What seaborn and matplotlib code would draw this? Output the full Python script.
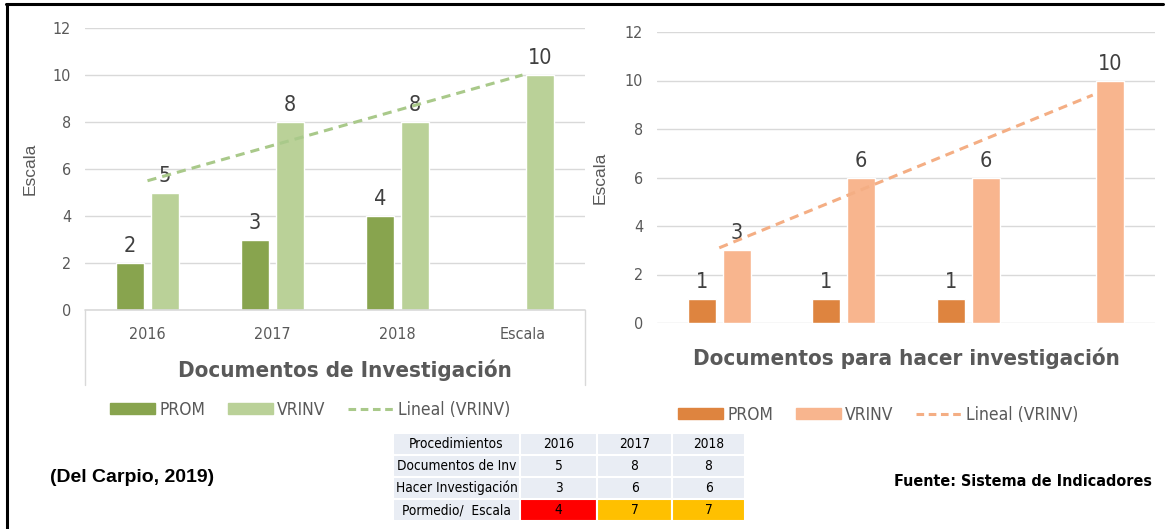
import numpy as np
import pandas as pd
import matplotlib
matplotlib.use("Agg")
import matplotlib.pyplot as plt
import seaborn as sns
from matplotlib.patches import Patch
from matplotlib.lines import Line2D

## DATOS
categorias = ["2016", "2017", "2018", "Escala"]
series = ["PROM", "VRINV"]
prom_inv = [2, 3, 4, np.nan]
vrinv_inv = [5, 8, 8, 10]
prom_hacer = [1, 1, 1, np.nan]
vrinv_hacer = [3, 6, 6, 10]

titulo_inv = "Documentos de Investigación"
titulo_hacer = "Documentos para hacer investigación"

tabla_cols = ["Procedimientos", "2016", "2017", "2018"]
tabla_filas = ["Documentos de Inv", "Hacer Investigación", "Pormedio/  Escala"]
tabla_vals = [[5, 8, 8], [3, 6, 6], [4, 7, 7]]

sns.set_style("white")
# letra estrecha parecida a Arial Narrow
plt.rcParams['font.family'] = ['DejaVu Sans']
plt.rcParams['font.stretch'] = 'condensed'

GRIS = "#595959"
REJILLA = "#D9D9D9"

fig = plt.figure(figsize=(11.66, 5.29), dpi=100)


def dibujar(ax, prom, vrinv, c_prom, c_vrinv, c_linea, ver_ticks):
    df = pd.DataFrame({
        "cat": categorias * 2,
        "serie": ["PROM"] * 4 + ["VRINV"] * 4,
        "valor": list(prom) + list(vrinv),
    })
    sns.barplot(data=df, x="cat", y="valor", hue="serie", order=categorias,
                hue_order=series, palette=[c_prom, c_vrinv], saturation=1,
                width=0.56, gap=0.2, ax=ax, legend=False)
    for cont in ax.containers:
        ax.bar_label(cont, fmt="%g", padding=5, fontsize=15.5, color="#404040")
    # linea de tendencia (lineal) de VRINV
    xs = np.arange(len(categorias))
    m, b = np.polyfit(xs, vrinv, 1)
    ax.plot(xs[[0, -1]], m * xs[[0, -1]] + b, ls=(0, (3, 2)), lw=2.2,
            color=c_linea, zorder=3)
    ax.set_ylim(0, 12)
    ax.set_xlim(-0.5, 3.5)
    ax.set_yticks(range(0, 13, 2))
    ax.grid(axis="y", color=REJILLA, lw=1)
    ax.set_axisbelow(True)
    sns.despine(ax=ax, left=True, bottom=True)
    ax.tick_params(axis="y", length=0, labelsize=11.5, labelcolor=GRIS, pad=10)
    ax.tick_params(axis="x", length=0, labelsize=11.5, labelcolor=GRIS, pad=12)
    if not ver_ticks:
        ax.set_xticklabels([])
    ax.set_xlabel("")
    ax.set_ylabel("Escala", fontsize=12.5, color=GRIS,
                  family=['Liberation Sans', 'DejaVu Sans'], stretch='normal')


# grafico izquierdo
ax1 = fig.add_axes([85 / 1166, 1 - 310 / 529, 500 / 1166, 282 / 529])
dibujar(ax1, prom_inv, vrinv_inv, "#88A44E", "#BAD198", "#A9C98A", True)
ax1.yaxis.set_label_coords(-0.094, 0.5)

# grafico derecho
ax2 = fig.add_axes([657 / 1166, 1 - 323 / 529, 498 / 1166, 291 / 529])
dibujar(ax2, prom_hacer, vrinv_hacer, "#DE843F", "#F8B58E", "#F4AE84", False)
ax2.yaxis.set_label_coords(-0.1, 0.5)

# marco gris del area del eje x (izquierdo)
for xp in (85, 585):
    fig.add_artist(Line2D([xp / 1166] * 2, [1 - 310 / 529, 1 - 385 / 529],
                          color=REJILLA, lw=1))
fig.add_artist(Line2D([85 / 1166, 585 / 1166], [1 - 310 / 529] * 2,
                      color=REJILLA, lw=1.2))

fig.text(345 / 1166, 1 - 370 / 529, titulo_inv, ha="center", va="center",
         fontsize=16, fontweight="bold", color=GRIS)
fig.text(906 / 1166, 1 - 358 / 529, titulo_hacer, ha="center", va="center",
         fontsize=16, fontweight="bold", color=GRIS)


def leyenda(c_prom, c_vrinv, c_linea, cx, cy):
    handles = [Patch(color=c_prom), Patch(color=c_vrinv),
               Line2D([], [], color=c_linea, ls=(0, (2.5, 1.5)), lw=2.2)]
    fig.legend(handles, ["PROM", "VRINV", "Lineal (VRINV)"], loc="center",
               bbox_to_anchor=(cx / 1166, 1 - cy / 529), ncol=3, frameon=False,
               fontsize=12.5, labelcolor=GRIS, handlelength=2.6,
               handleheight=0.6, handletextpad=0.25, columnspacing=1.3)


leyenda("#88A44E", "#BAD198", "#A9C98A", 310, 410)
leyenda("#DE843F", "#F8B58E", "#F4AE84", 878, 415)

# tabla resumen
axt = fig.add_axes([393 / 1166, 1 - 521 / 529, 352 / 1166, 88 / 529])
axt.axis("off")
celdas = [[f] + [str(v) for v in vals] for f, vals in zip(tabla_filas, tabla_vals)]
fondo = "#E9EDF4"
colores = [[fondo] * 4, [fondo] * 4, [fondo, "#FF0000", "#FFC000", "#FFC000"]]
tab = axt.table(cellText=celdas, colLabels=tabla_cols, cellColours=colores,
                colColours=[fondo] * 4, colWidths=[127, 77, 75, 73],
                cellLoc="center", bbox=[0, 0, 1, 1])
tab.auto_set_font_size(False)
for (r, c), cell in tab.get_celld().items():
    cell.set_edgecolor("white")
    cell.set_linewidth(1.5)
    cell.PAD = 0.02
    cell.get_text().set_fontsize(9.8)
    cell.get_text().set_color("black")

fig.text(50 / 1166, 1 - 478 / 529, "(Del Carpio, 2019)", ha="left", va="center",
         fontsize=14, fontweight="bold", color="black",
         family=['Liberation Sans', 'DejaVu Sans'], stretch='normal')
fig.text(1152 / 1166, 1 - 481 / 529, "Fuente: Sistema de Indicadores", ha="right",
         va="center", fontsize=11.5, fontweight="bold", color="black")

# borde negro
fig.add_artist(Line2D([6 / 1166, 1163 / 1166], [1 - 4 / 529] * 2, color="black", lw=2.2))
fig.add_artist(Line2D([7 / 1166] * 2, [1 - 4 / 529, 0], color="black", lw=2.2))

fig.savefig("out.png", dpi=100)
